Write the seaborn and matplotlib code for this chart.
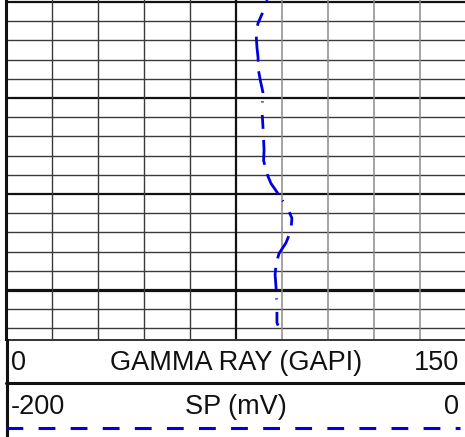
import matplotlib
matplotlib.use("Agg")
import matplotlib.pyplot as plt
import seaborn as sns
import numpy as np
import pandas as pd

# ---- data ----
depth = [4999.8, 5001.05, 5002.2, 5003.2, 5004.7, 5005.8, 5006.9, 5008.2, 5009.4,
         5011.3, 5012.9, 5015.4, 5016.5, 5017.8, 5018.9, 5020.1, 5021.4, 5022.5,
         5023.8, 5025.1, 5026.2, 5027.3, 5028.4, 5029.7, 5032.1, 5033.4, 5034.5]
sp_mv = [-86.5, -88.3, -90.4, -91.3, -90.9, -90.4, -90.4, -89.4, -88.3,
         -88.7, -88.3, -87.8, -88.0, -86.7, -84.8, -81.3, -77.8, -75.7,
         -76.1, -78.3, -81.3, -82.6, -83.0, -82.6, -82.2, -82.2, -80.4]

sp_range = [-200, 0]
gr_range = [0, 150]
depth_top, depth_bottom = 4999.8, 5035.1
gr_label = "GAMMA RAY (GAPI)"
sp_label = "SP (mV)"

df = pd.DataFrame({"DEPTH": depth, "SP": sp_mv})

sns.set_theme(style="white")
plt.rcParams['font.family'] = ['Liberation Sans', 'DejaVu Sans']

W, H = 465, 437
fig = plt.figure(figsize=(W / 100, H / 100), dpi=100)

blue = "#0000dd"
dark = "#3a3a3a"
grey = "#8a8a8a"

# main track
ax = fig.add_axes([6 / W, (H - 339) / H, 460 / W, 339 / H])
ax.set_xlim(*sp_range)
ax.set_ylim(depth_bottom, depth_top)

# horizontal grid
for d in np.arange(5000, 5036, 2):
    major = (round(d) % 10 == 0)
    lw = 1.6 if major else 1.0
    if round(d) == 5030:
        lw = 2.3
    ax.axhline(d, color="#111111" if major else dark, lw=lw, zorder=1)
# vertical grid
for v in np.arange(-180, 0, 20):
    if v == -100:
        ax.axvline(v, color="#111111", lw=1.6, zorder=1)
    elif v < -100:
        ax.axvline(v, color=dark, lw=1.0, zorder=1)
    else:
        ax.axvline(v, color=grey, lw=1.1, zorder=1)

sns.lineplot(data=df, x="SP", y="DEPTH", sort=False, estimator=None,
             color=blue, lw=2.0, ax=ax, zorder=3)
ln = ax.lines[-1]
ln.set_dashes([0.4, 4.5, 5, 4, 9, 3.5, 8, 3])
ln.set_dash_capstyle("butt")

ax.set_xticks([])
ax.set_yticks([])
ax.set_xlabel("")
ax.set_ylabel("")
for s in ["top", "right", "bottom"]:
    ax.spines[s].set_visible(False)
ax.spines["left"].set_color("#111111")
ax.spines["left"].set_linewidth(2.2)

# header
hx = fig.add_axes([0, 0, 1, (H - 339) / H])
hx.set_xlim(0, W)
hx.set_ylim(H, 339)
hx.axis("off")
hx.plot([6, W], [339.5, 339.5], color="#111111", lw=1.2)
hx.plot([6, W], [383, 383], color="#111111", lw=2.2)
hx.plot([6.5, 6.5], [339, H], color="#111111", lw=2.2)

fs = 19.5
tc = "#111111"
hx.text(11, 363, str(gr_range[0]), ha="left", va="center", fontsize=fs, color=tc)
hx.text(236, 363, gr_label, ha="center", va="center", fontsize=fs, color=tc)
hx.text(459, 363, str(gr_range[1]), ha="right", va="center", fontsize=fs, color=tc)
hx.text(11, 407, str(sp_range[0]), ha="left", va="center", fontsize=fs, color=tc)
hx.text(236, 407, sp_label, ha="center", va="center", fontsize=fs, color=tc)
hx.text(459, 407, str(sp_range[1]), ha="right", va="center", fontsize=fs, color=tc)
dl, = hx.plot([6, 460], [428, 428], color=blue, lw=2.2)
dl.set_dashes([5.5, 5])
dl.set_dash_capstyle("butt")

fig.savefig("out.png", dpi=100)
